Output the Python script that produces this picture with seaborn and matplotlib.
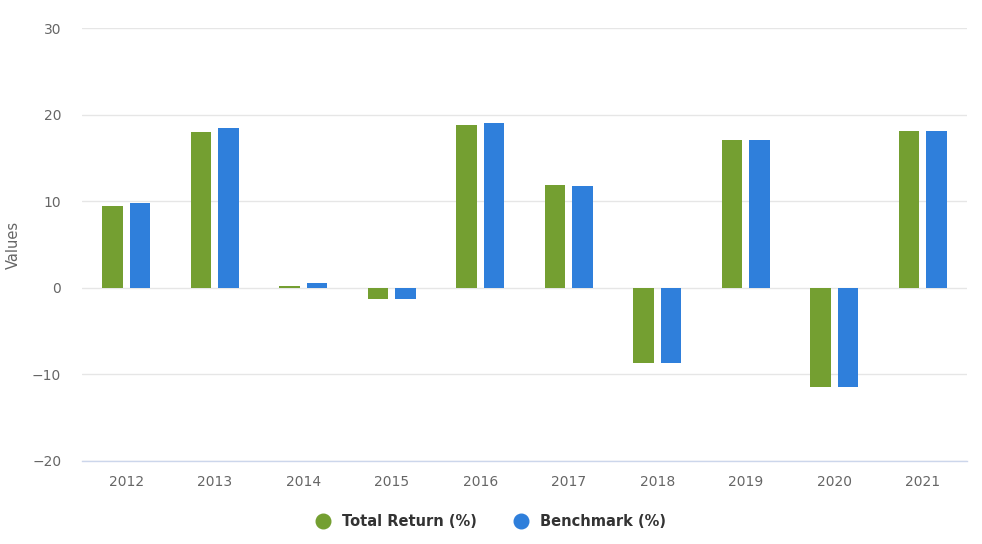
import matplotlib
matplotlib.use("Agg")
import matplotlib.pyplot as plt
from matplotlib.lines import Line2D
import seaborn as sns
import pandas as pd

years = ["2012", "2013", "2014", "2015", "2016", "2017", "2018", "2019", "2020", "2021"]
total_return = [9.4, 18.0, 0.2, -1.3, 18.8, 11.9, -8.7, 17.1, -11.5, 18.1]
benchmark = [9.8, 18.5, 0.5, -1.3, 19.0, 11.7, -8.7, 17.1, -11.5, 18.1]
series_names = ["Total Return (%)", "Benchmark (%)"]
colors = ["#749F31", "#2F7FDB"]
y_ticks = [-20, -10, 0, 10, 20, 30]

df = pd.DataFrame({
    "Year": years * 2,
    "Value": total_return + benchmark,
    "Series": [series_names[0]] * len(years) + [series_names[1]] * len(years),
})

sns.set_theme(style="white")
plt.rcParams["font.family"] = ["DejaVu Sans"]

fig = plt.figure(figsize=(9.82, 5.44), dpi=100)
ax = fig.add_axes([82 / 982, 1 - 461 / 544, (967 - 82) / 982, (461 - 28) / 544])

sns.barplot(data=df, x="Year", y="Value", hue="Series", palette=colors,
            width=0.62, gap=0.24, ax=ax, legend=False, saturation=1,
            linewidth=0, zorder=3)

ax.set_ylim(-20, 30)
ax.set_yticks(y_ticks)
ax.set_yticklabels([str(t).replace("-", "\u2212") for t in y_ticks])
ax.set_xlim(-0.5, len(years) - 0.5)
ax.grid(axis="y", color="#e6e6e6", linewidth=1, zorder=0)
ax.set_axisbelow(True)
for s in ["top", "right", "left"]:
    ax.spines[s].set_visible(False)
ax.spines["bottom"].set_color("#ccd6eb")
ax.spines["bottom"].set_linewidth(1)
ax.spines["bottom"].set_zorder(4)
ax.tick_params(axis="both", length=0, labelsize=10, labelcolor="#666666")
ax.tick_params(axis="x", pad=10)
ax.tick_params(axis="y", pad=15)
ax.set_xlabel("")
ax.set_ylabel("Values", fontsize=10.5, color="#666666", labelpad=8)

handles = [Line2D([0], [0], marker="o", linestyle="", markersize=10.5,
                  markerfacecolor=c, markeredgecolor=c) for c in colors]
leg = fig.legend(handles, series_names, loc="center", bbox_to_anchor=(487 / 982, 1 - 522 / 544),
                 ncol=2, frameon=False, handletextpad=0.3, columnspacing=2.0,
                 prop={"weight": "bold", "size": 10.5})
for t in leg.get_texts():
    t.set_color("#333333")

fig.savefig("out.png", dpi=100)
